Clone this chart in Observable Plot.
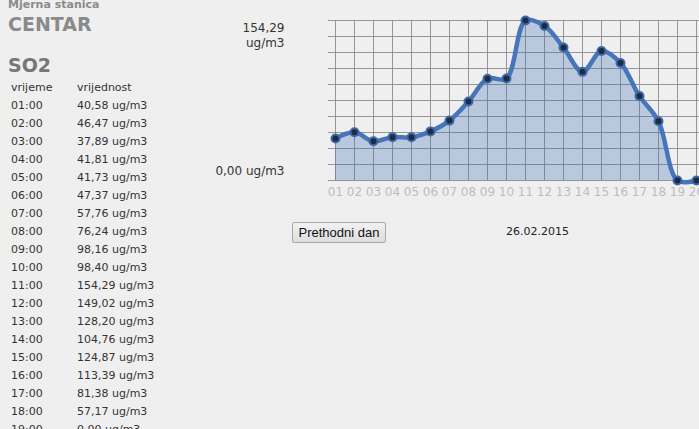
<!DOCTYPE html>
<html>
<head>
<meta charset="utf-8">
<script src="https://cdn.jsdelivr.net/npm/d3@7"></script>
<script src="https://cdn.jsdelivr.net/npm/@observablehq/plot@0.6"></script>
<style>
  html, body { margin: 0; padding: 0; background: #efefef; overflow: hidden; width: 699px; height: 429px; }
  body { font-family: "DejaVu Sans", sans-serif; color: #333; position: relative; }
  #station { position: absolute; left: 8px; top: -2px; font-size: 11px; font-weight: bold; color: #8a8a8a; }
  #name { position: absolute; left: 8px; top: 13px; font-size: 19px; font-weight: bold; color: #8a8a8a; }
  #pol { position: absolute; left: 8px; top: 54px; font-size: 19px; font-weight: bold; color: #777; }
  #tbl { position: absolute; left: 11px; top: 79px; font-size: 11px; color: #333; }
  #tbl div { height: 18px; line-height: 18px; white-space: nowrap; }
  #tbl span { display: inline-block; width: 66px; }
  #chart { position: absolute; left: 210px; top: 0px; width: 580px; }
  #chart svg { max-width: none !important; }
  #btn { position: absolute; left: 292px; top: 222px; width: 94px; height: 21px; box-sizing: border-box;
         font-family: "Liberation Sans", Arial, sans-serif; font-size: 13px; color: #111;
         background: linear-gradient(#f2f2f2, #dddddd); border: 1px solid #a9a9a9; border-radius: 2px;
         padding: 0; }
  #date { position: absolute; left: 506px; top: 225px; font-size: 11px; color: #222; }
</style>
</head>
<body>
<div id="station">Mjerna stanica</div>
<div id="name">CENTAR</div>
<div id="pol">SO2</div>
<div id="tbl"></div>
<div id="chart"></div>
<button id="btn">Prethodni dan</button>
<div id="date">26.02.2015</div>
<script>
const hours = ["01","02","03","04","05","06","07","08","09","10","11","12","13","14","15","16","17","18","19","20","21","22","23","24"];
const values = [40.58, 46.47, 37.89, 41.81, 41.73, 47.37, 57.76, 76.24, 98.16, 98.40, 154.29, 149.02, 128.20, 104.76, 124.87, 113.39, 81.38, 57.17, 0.00, 0.00];
const tableLabels = ["01:00","02:00","03:00","04:00","05:00","06:00","07:00","08:00","09:00","10:00","11:00","12:00","13:00","14:00","15:00","16:00","17:00","18:00","19:00"];
const tableValues = ["40,58","46,47","37,89","41,81","41,73","47,37","57,76","76,24","98,16","98,40","154,29","149,02","128,20","104,76","124,87","113,39","81,38","57,17","0,00"];
const unit = "ug/m3";
const yMax = 154.29;
const yMaxLabel = "154,29";
const yMinLabel = "0,00";

// table
const tbl = document.getElementById("tbl");
let html = '<div><span>vrijeme</span>vrijednost</div>';
tableLabels.forEach((t, i) => { html += `<div><span>${t}</span>${tableValues[i]} ${unit}</div>`; });
tbl.innerHTML = html;

const data = values.map((v, i) => ({hour: hours[i], v}));
const gridTicks = d3.range(0, 11).map(i => yMax * i / 10);

const plot = Plot.plot({
  width: 580,
  height: 200,
  marginLeft: 118,
  marginRight: 11,
  marginTop: 20,
  marginBottom: 20,
  style: {background: "transparent", fontFamily: "DejaVu Sans, sans-serif", overflow: "visible", maxWidth: "none"},
  x: {type: "point", domain: hours, padding: 0, axis: null, label: null},
  y: {domain: [0, yMax], axis: null, label: null},
  marks: [
    Plot.gridX(hours, {stroke: "#8c8c8c", strokeOpacity: 0.9}),
    Plot.gridY(gridTicks, {stroke: "#8c8c8c", strokeOpacity: 0.9}),
    Plot.areaY(data, {x: "hour", y: "v", curve: "catmull-rom", fill: "#3d6cb3", fillOpacity: 0.3}),
    Plot.lineY(data, {x: "hour", y: "v", curve: "catmull-rom", stroke: "#4675ba", strokeWidth: 4.5}),
    Plot.dot(data, {x: "hour", y: "v", r: 4, fill: "#1f2b3f", stroke: "#3c69ad", strokeWidth: 2}),
    Plot.axisX(hours, {tickSize: 0, tickPadding: 7, fontSize: 12, fill: "#bdbdbd", anchor: "bottom", label: null}),
    Plot.text([{v: yMax, t: yMaxLabel + "\n" + unit}], {y: "v", text: "t", frameAnchor: "left", textAnchor: "end", lineAnchor: "top", dx: -44, dy: 1, lineHeight: 1.25, fontSize: 12, fill: "#333"}),
    Plot.text([{v: 0, t: yMinLabel + " " + unit}], {y: "v", text: "t", frameAnchor: "left", textAnchor: "end", lineAnchor: "bottom", dx: -44, dy: -6, fontSize: 12, fill: "#333"})
  ]
});
document.getElementById("chart").appendChild(plot);
</script>
</body>
</html>
